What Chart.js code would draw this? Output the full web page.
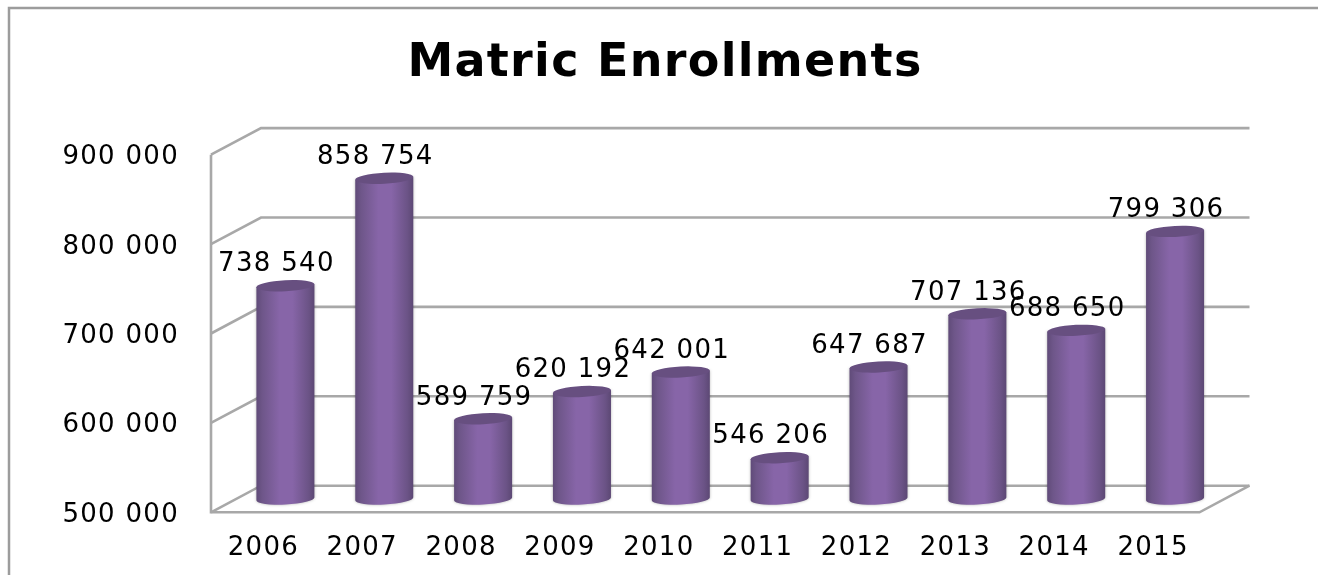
<!DOCTYPE html>
<html>
<head>
<meta charset="utf-8">
<title>Matric Enrollments</title>
<script src="https://cdn.jsdelivr.net/npm/chart.js@4"></script>
<style>
html,body{margin:0;padding:0;background:#fff;overflow:hidden}
canvas{display:block}
</style>
</head>
<body>
<canvas id="chart" width="1318" height="575"></canvas>
<script>
const chartTitle = 'Matric Enrollments';
const years = ['2006','2007','2008','2009','2010','2011','2012','2013','2014','2015'];
const enrollments = [738540,858754,589759,620192,642001,546206,647687,707136,688650,799306];
const axisMin = 500000;
const axisMax = 900000;
const axisStep = 100000;

const spaced = v => String(v).replace(/\B(?=(\d{3})+$)/g, ' ');
const TEXT_FONT = 'DejaVu Sans';
const TEXT_SIZE = 26;
const TEXT_SPACING = '1.3px';
const WALL = '#a8a8a8';
const FRAME = '#9c9c9c';
const DEPTH_X = 25, DEPTH_Y = 13.3;

// Outer chart border: only the top and left edges fall inside the canvas.
const framePlugin = {
  id: 'frame',
  beforeDraw(chart) {
    const c = chart.ctx;
    c.letterSpacing = TEXT_SPACING;
    c.save();
    c.fillStyle = '#fff';
    c.fillRect(0, 0, chart.width, chart.height);
    c.strokeStyle = FRAME;
    c.lineWidth = 2.5;
    c.beginPath();
    c.moveTo(9, chart.height);
    c.lineTo(9, 8);
    c.lineTo(chart.width, 8);
    c.stroke();
    c.restore();
  },
  // The heading sits slightly right of the canvas centre.
  afterLayout(chart) {
    chart.titleBlock.left = 0;
    chart.titleBlock.right = chart.width + 12;
  }
};

// Perspective box: back wall gridlines, left wall diagonals and floor, derived from the scales.
const wallsPlugin = {
  id: 'walls',
  beforeDatasetsDraw(chart) {
    const { ctx: c, chartArea: a, scales: { y } } = chart;
    const fx = a.left - DEPTH_X, bx = a.left + DEPTH_X;
    const rx = a.right + DEPTH_X, frx = a.right - DEPTH_X;
    c.save();
    c.strokeStyle = WALL;
    c.lineWidth = 2.6;
    y.ticks.forEach(t => {
      const p = y.getPixelForValue(t.value);
      c.beginPath();
      c.moveTo(fx, p + DEPTH_Y);
      c.lineTo(bx, p - DEPTH_Y);
      c.lineTo(rx, p - DEPTH_Y);
      c.stroke();
    });
    const top = y.getPixelForValue(axisMax) + DEPTH_Y;
    const bot = y.getPixelForValue(axisMin) + DEPTH_Y;
    c.beginPath();
    c.moveTo(fx, top);
    c.lineTo(fx, bot);
    c.lineTo(frx, bot);
    c.lineTo(rx, bot - 2 * DEPTH_Y);
    c.stroke();
    c.restore();
  }
};

// Each bar element is rendered as a shaded cylinder at the position the scales gave it.
const cylinderPlugin = {
  id: 'cylinders',
  beforeDatasetDraw(chart, args) {
    const c = chart.ctx;
    const meta = chart.getDatasetMeta(args.index);
    const tilt = -3 * Math.PI / 180;
    meta.data.forEach(bar => {
      const rx = bar.width / 2, ry = 5.5;
      const l = bar.x - rx, r = bar.x + rx;
      const g = c.createLinearGradient(l, 0, r, 0);
      g.addColorStop(0, '#604b79');
      g.addColorStop(0.1, '#6e5689');
      g.addColorStop(0.4, '#8765a8');
      g.addColorStop(0.62, '#8765a8');
      g.addColorStop(0.9, '#6b5386');
      g.addColorStop(1, '#5c4874');
      const dy = rx * Math.sin(tilt);
      c.save();
      c.shadowColor = 'rgba(0,0,0,0.3)';
      c.shadowBlur = 3;
      c.fillStyle = g;
      c.beginPath();
      c.moveTo(l, bar.y - dy);
      c.lineTo(l, bar.base - dy);
      c.ellipse(bar.x, bar.base, rx, ry, tilt, Math.PI, 0, true);
      c.lineTo(r, bar.y + dy);
      c.closePath();
      c.fill();
      c.shadowColor = 'transparent';
      c.fillStyle = '#674f80';
      c.beginPath();
      c.ellipse(bar.x, bar.y, rx, ry, tilt, 0, Math.PI * 2);
      c.fill();
      c.restore();
    });
    return false;
  },
  afterDatasetsDraw(chart) {
    const c = chart.ctx;
    const meta = chart.getDatasetMeta(0);
    c.save();
    c.fillStyle = '#000';
    c.font = TEXT_SIZE + 'px "' + TEXT_FONT + '"';
    c.textAlign = 'center';
    c.textBaseline = 'middle';
    meta.data.forEach((bar, i) => {
      c.fillText(spaced(enrollments[i]), bar.x - 9, bar.y - 21);
    });
    c.restore();
  }
};

new Chart(document.getElementById('chart'), {
  type: 'bar',
  data: {
    labels: years,
    datasets: [{
      label: chartTitle,
      data: enrollments,
      base: axisMin,
      backgroundColor: '#8765a8',
      barPercentage: 0.587,
      categoryPercentage: 1
    }]
  },
  plugins: [framePlugin, wallsPlugin, cylinderPlugin],
  options: {
    responsive: false,
    animation: false,
    devicePixelRatio: 1,
    layout: { padding: { left: 0, right: 93.5, top: 0, bottom: 0 } },
    plugins: {
      legend: { display: false },
      tooltip: { enabled: false },
      title: {
        display: true,
        text: chartTitle,
        color: '#000',
        font: { family: TEXT_FONT, size: 46, weight: 'bold', lineHeight: 1.2 },
        padding: { top: 36, bottom: 50.2 }
      }
    },
    scales: {
      x: {
        grid: { display: false, drawTicks: false },
        border: { display: false },
        afterFit(s) { s.height = 76; },
        ticks: {
          color: '#000',
          font: { family: TEXT_FONT, size: TEXT_SIZE },
          labelOffset: -22,
          padding: 34,
          maxRotation: 0,
          autoSkip: false
        }
      },
      y: {
        min: axisMin,
        max: axisMax,
        grid: { display: false, drawTicks: false },
        border: { display: false },
        afterFit(s) { s.width = 236; },
        ticks: {
          stepSize: axisStep,
          color: '#000',
          font: { family: TEXT_FONT, size: TEXT_SIZE },
          labelOffset: 16,
          padding: 57,
          callback: v => spaced(v)
        }
      }
    }
  }
});
</script>
</body>
</html>
